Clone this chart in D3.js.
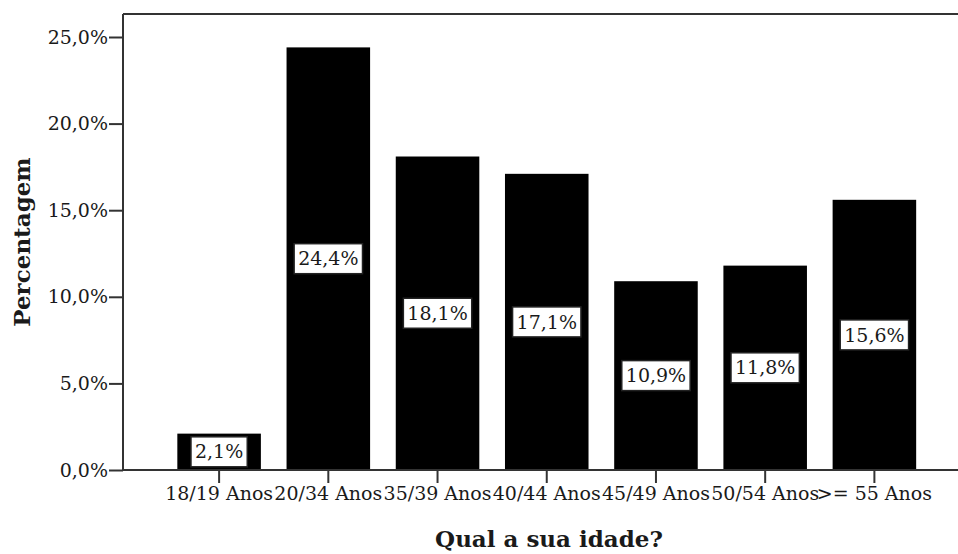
<!DOCTYPE html>
<html>
<head>
<meta charset="utf-8">
<script src="https://cdn.jsdelivr.net/npm/d3@7"></script>
<style>
  html, body { margin: 0; padding: 0; background: #fff; }
  svg { display: block; }
  text { font-family: "DejaVu Serif", serif; fill: #1a1a1a; }
</style>
</head>
<body>
<svg id="chart" width="958" height="554"></svg>
<script>
// Age groups and share of respondents (%)
const categories = ["18/19 Anos", "20/34 Anos", "35/39 Anos", "40/44 Anos", "45/49 Anos", "50/54 Anos", ">= 55 Anos"];
const percentages = [2.1, 24.4, 18.1, 17.1, 10.9, 11.8, 15.6];
const yTickValues = [0, 5, 10, 15, 20, 25];
const xTitle = "Qual a sua idade?";
const yTitle = "Percentagem";

const fmt = v => d3.format(".1f")(v).replace(".", ",") + "%";

const svg = d3.select("#chart");
const W = 958, H = 554;
const plot = { left: 123, right: W, top: 14, bottom: 470 };

const x = d3.scaleBand()
  .domain(categories)
  .range([164.5, 929])
  .paddingInner(0.235)
  .paddingOuter(0.1175);

const y = d3.scaleLinear()
  .domain([0, 25])
  .range([plot.bottom, 37]);

// Frame: top rule
svg.append("line")
  .attr("x1", plot.left).attr("x2", plot.right)
  .attr("y1", plot.top).attr("y2", plot.top)
  .attr("stroke", "#333").attr("stroke-width", 2);

// Bars
svg.append("g").selectAll("rect")
  .data(percentages)
  .join("rect")
  .attr("x", (d, i) => x(categories[i]))
  .attr("width", x.bandwidth())
  .attr("y", d => y(d))
  .attr("height", d => y(0) - y(d))
  .attr("fill", "#000");

// Y axis
const yAxis = d3.axisLeft(y)
  .tickValues(yTickValues)
  .tickFormat(fmt)
  .tickSize(14)
  .tickPadding(1);
const gy = svg.append("g")
  .attr("transform", `translate(${plot.left},0)`)
  .call(yAxis);
gy.select(".domain").remove();
gy.selectAll(".tick line").attr("stroke", "#333").attr("stroke-width", 2);
gy.selectAll(".tick text").style("font-size", "19px").attr("fill", "#1a1a1a");
svg.append("line")
  .attr("x1", plot.left).attr("x2", plot.left)
  .attr("y1", plot.top).attr("y2", plot.bottom)
  .attr("stroke", "#333").attr("stroke-width", 2);

// X axis
const xAxis = d3.axisBottom(x).tickSize(13).tickPadding(4);
const gx = svg.append("g")
  .attr("transform", `translate(0,${plot.bottom})`)
  .call(xAxis);
gx.select(".domain").remove();
gx.selectAll(".tick line").attr("stroke", "#333").attr("stroke-width", 2);
gx.selectAll(".tick text").style("font-size", "19px").attr("fill", "#1a1a1a");
svg.append("line")
  .attr("x1", plot.left).attr("x2", plot.right)
  .attr("y1", plot.bottom).attr("y2", plot.bottom)
  .attr("stroke", "#333").attr("stroke-width", 2);

// Value labels in white boxes at bar mid-height
const labels = svg.append("g").selectAll("g")
  .data(percentages)
  .join("g")
  .attr("transform", (d, i) =>
    `translate(${x(categories[i]) + x.bandwidth() / 2},${(y(d) + y(0)) / 2})`);

labels.append("rect").attr("class", "box");
labels.append("text")
  .attr("text-anchor", "middle")
  .attr("dy", "0.35em")
  .style("font-size", "19px")
  .text(d => fmt(d));
labels.each(function () {
  const g = d3.select(this);
  const bb = g.select("text").node().getBBox();
  g.select("rect")
    .attr("x", -bb.width / 2 - 4)
    .attr("width", bb.width + 8)
    .attr("y", -15)
    .attr("height", 30)
    .attr("fill", "#fff")
    .attr("stroke", "#222")
    .attr("stroke-width", 1.5);
});

// Axis titles
svg.append("text")
  .attr("x", 549).attr("y", 547)
  .attr("text-anchor", "middle")
  .style("font-size", "23px").style("font-weight", "bold")
  .text(xTitle);

svg.append("text")
  .attr("transform", "translate(30,242) rotate(-90)")
  .attr("text-anchor", "middle")
  .style("font-size", "23px").style("font-weight", "bold")
  .text(yTitle);
</script>
</body>
</html>
